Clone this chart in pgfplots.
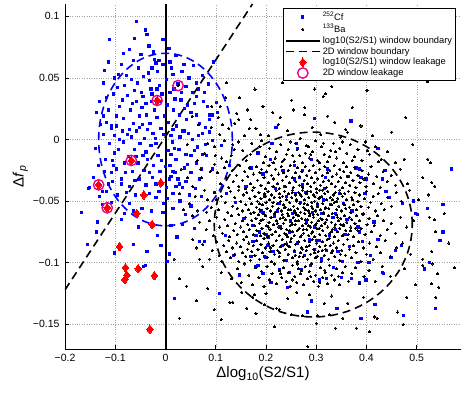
\documentclass[border=0pt]{standalone}
\usepackage{fontspec}
\setmainfont{Liberation Sans}
\usepackage{pgfplots}
\pgfplotsset{compat=1.18}
\begin{document}
\begin{tikzpicture}
\begin{axis}[
  at={(0,0)}, anchor=south west,
  scale only axis, width=396pt, height=345pt,
  xmin=-0.2, xmax=0.588, ymin=-0.17, ymax=0.11,
  axis lines=left, axis line style={-, line width=0.7pt},
  tick align=inside, major tick length=4pt, tick style={line width=0.6pt, black},
  xtick={-0.2,-0.1,0,0.1,0.2,0.3,0.4,0.5},
  xticklabels={−0.2,−0.1,0,0.1,0.2,0.3,0.4,0.5},
  ytick={-0.15,-0.1,-0.05,0,0.05,0.1},
  yticklabels={−0.15,−0.1,−0.05,0,0.05,0.1},
  ticklabel style={font=\fontsize{10.5}{12}\selectfont},
  yticklabel style={xshift=-2pt},
  xticklabel style={yshift=-2pt},
  grid=major, grid style={dotted, gray!70, line width=0.5pt},
  xlabel={\fontsize{15}{16}\selectfont Δlog\textsubscript{10}(S2/S1)},
  ylabel={\fontsize{15}{16}\selectfont Δ\textit{f}\textsubscript{\textit{p}}},
  xlabel style={yshift=2pt},
  ylabel style={yshift=-2pt},
  legend image code/.code={\draw[mark repeat=2,mark phase=2,#1] plot coordinates {(0pt,0pt) (17pt,0pt) (34pt,0pt)};},
  legend style={at={(rel axis cs:0.987,0.988)}, anchor=north east, draw=black, line width=0.6pt, fill=white,
    font=\fontsize{9.3}{10}\selectfont, inner sep=1.5pt, row sep=-1.5pt},
  legend cell align=left,
]
% 252Cf
\addplot[only marks, mark=square*, mark size=1.15pt, color=blue, mark options={line width=0pt}] coordinates {
(-0.058,0.096) (-0.040,0.089) (-0.037,0.085) (-0.111,0.081) (0.007,0.074) (-0.022,0.065) (-0.019,0.062) (-0.013,0.064)
(-0.121,0.056) (0.009,0.063) (-0.054,0.058) (-0.078,0.052) (0.015,0.053) (0.056,0.060) (0.095,0.063) (0.074,0.052)
(-0.123,0.046) (-0.096,0.042) (-0.032,0.048) (-0.012,0.044) (0.041,0.043) (-0.131,0.031) (-0.113,0.024) (-0.085,0.032)
(-0.062,0.040) (-0.045,0.035) (0.009,0.038) (0.031,0.032) (0.061,0.035) (0.084,0.027) (0.094,0.020) (-0.098,0.011)
(-0.108,0.009) (-0.070,0.024) (-0.052,0.019) (-0.038,0.020) (-0.022,0.024) (-0.002,0.019) (0.028,0.020) (0.051,0.022)
(0.068,0.013) (0.088,0.020) (-0.092,0.000) (-0.075,0.004) (-0.058,0.007) (-0.042,0.001) (-0.025,0.005) (-0.009,0.009)
(0.011,0.003) (0.034,0.007) (0.054,0.000) (0.074,0.005) (0.094,-0.001) (0.111,-0.005) (-0.101,-0.011) (-0.082,-0.019)
(-0.062,-0.008) (-0.045,-0.013) (-0.029,-0.005) (-0.015,-0.013) (0.005,-0.009) (0.021,-0.016) (0.041,-0.012) (0.061,-0.019)
(0.081,-0.013) (-0.108,-0.027) (-0.088,-0.032) (-0.065,-0.026) (-0.052,-0.032) (-0.032,-0.027) (-0.019,-0.036) (0.011,-0.030)
(0.028,-0.036) (0.051,-0.027) (-0.151,-0.039) (-0.125,-0.042)
(-0.123,0.019) (-0.107,0.011) (-0.105,-0.017) (-0.103,-0.021) (-0.153,-0.040) (-0.121,-0.026) (-0.118,-0.042) (-0.131,-0.046)
(-0.167,-0.059) (-0.125,-0.053) (-0.135,-0.067) (-0.137,-0.075) (-0.155,-0.085) (-0.097,0.019) (-0.101,0.003)
(-0.105,-0.034) (-0.088,-0.036) (-0.072,-0.038) (-0.032,-0.044) (-0.019,-0.047) (-0.004,-0.052) (-0.082,-0.060) (-0.072,-0.052)
(-0.044,-0.103) (-0.040,-0.102) (-0.009,-0.086) (0.015,-0.044) (0.021,-0.038) (0.034,-0.039) (0.023,-0.079) (0.018,-0.129)
(-0.060,-0.045) (-0.047,-0.056)
(0.078,0.038) (0.054,0.038) (0.044,0.028) (0.015,0.008) (0.038,0.007) (0.066,0.003) (0.088,0.016) (0.101,0.030)
(0.104,0.022) (0.018,-0.007) (0.011,-0.012) (0.051,-0.013) (0.074,-0.012) (0.094,-0.024) (0.038,-0.023) (0.015,-0.026)
(0.008,-0.032) (0.025,-0.032) (0.068,-0.032) (0.071,-0.046) (0.097,-0.043) (0.121,-0.044) (0.051,-0.054) (0.015,-0.056)
(-0.005,-0.059) (0.011,-0.070) (0.034,-0.069) (0.068,-0.083) (0.078,-0.083) (0.008,-0.093) (0.107,-0.125) (0.080,-0.004)
(0.061,0.046)
(-0.087,0.061) (-0.071,0.073) (-0.049,0.069) (-0.033,0.076) (-0.027,0.058) (-0.005,0.081) (0.021,0.068) (0.037,0.061)
(-0.064,0.064) (-0.044,0.051) (-0.016,0.055) (0.002,0.049) (0.025,0.045) (-0.093,0.053) (-0.081,0.044) (-0.068,0.049)
(-0.056,0.046) (-0.029,0.041) (-0.007,0.037) (0.017,0.041) (0.047,0.050) (-0.104,0.037) (-0.091,0.027) (-0.076,0.036)
(-0.058,0.031) (-0.039,0.029) (-0.027,0.037) (-0.011,0.031) (0.003,0.028) (0.019,0.033) (0.038,0.025) (0.057,0.029)
(0.075,0.031) (-0.117,0.014) (-0.084,0.017) (-0.063,0.013) (-0.047,0.026) (-0.031,0.013) (-0.017,0.018) (0.006,0.014)
(0.022,0.011) (0.042,0.016) (0.061,0.020) (0.080,0.010) (-0.123,0.004) (-0.111,-0.003) (-0.086,0.007) (-0.067,0.002)
(-0.051,-0.003) (-0.036,0.008) (-0.020,0.001) (-0.003,0.004) (0.014,-0.002) (0.029,0.002) (0.046,0.005) (0.063,-0.006)
(0.087,0.006) (-0.119,-0.016) (-0.094,-0.008) (-0.073,-0.014) (-0.055,-0.019) (-0.039,-0.010) (-0.024,-0.021) (-0.008,-0.017)
(0.009,-0.021) (0.027,-0.008) (0.044,-0.020) (0.058,-0.009) (0.071,-0.024) (-0.113,-0.036) (-0.097,-0.024) (-0.079,-0.027)
(-0.061,-0.033) (-0.043,-0.025) (-0.026,-0.031) (-0.011,-0.026) (0.002,-0.039) (0.019,-0.027) (0.041,-0.034) (0.060,-0.040)
(-0.143,-0.031) (-0.133,-0.021) (-0.139,-0.007) (-0.129,0.012) (-0.137,0.022) (-0.118,0.034) (-0.102,0.050) (-0.114,0.063)
(-0.084,0.070) (-0.062,0.082) (-0.024,0.071) (0.012,0.058) (0.033,0.055) (0.066,0.041) (0.086,0.045) (-0.095,-0.045)
(-0.078,-0.043) (-0.064,-0.058) (-0.039,-0.037) (-0.013,-0.042) (0.004,-0.048) (0.029,-0.050) (0.048,-0.045) (-0.107,-0.051)
(-0.088,-0.065) (-0.054,-0.071) (-0.028,-0.058) (-0.016,-0.078) (0.040,-0.061) (0.058,-0.072) (-0.101,-0.092) (-0.063,-0.085)
(-0.037,-0.091) (0.003,-0.099) (-0.046,0.012) (-0.017,0.041) (-0.034,0.054) (-0.052,0.010) (0.000,-0.022) (-0.071,0.008)
(-0.059,-0.014) (-0.019,-0.003) (-0.048,0.038) (-0.083,-0.002) (-0.005,0.061) (-0.036,-0.016) (0.032,0.038) (-0.066,0.029)
(-0.028,0.031) (0.016,0.024)
(0.296,0.017) (0.220,0.010) (0.369,0.015) (0.423,-0.007) (0.569,-0.024) (0.501,-0.061) (0.521,-0.056) (0.552,-0.075)
(0.546,-0.082) (0.525,-0.100) (0.515,-0.105) (0.537,-0.137) (0.474,-0.143) (0.389,-0.145) (0.417,-0.134) (0.399,-0.114)
(0.432,-0.108) (0.449,-0.096) (0.457,-0.090) (0.470,-0.086) (0.406,-0.100) (0.386,-0.116) (0.415,-0.067) (0.423,-0.081)
(0.386,-0.075) (0.408,-0.094) (0.290,-0.131) (0.283,-0.140) (0.341,-0.137) (0.243,-0.120) (0.210,-0.116) (0.194,-0.109)
(0.180,-0.103) (0.197,-0.095)
(0.212,-0.003) (0.260,-0.003) (0.263,-0.007) (0.184,-0.011) (0.323,-0.024) (0.209,-0.016) (0.234,-0.025) (0.257,-0.021)
(0.273,-0.025) (0.290,-0.016) (0.170,-0.023) (0.194,-0.028) (0.257,-0.032) (0.266,-0.031) (0.279,-0.043) (0.237,-0.038)
(0.317,-0.040) (0.363,-0.030) (0.379,-0.023) (0.197,-0.046) (0.227,-0.052) (0.346,-0.044) (0.354,-0.052) (0.292,-0.059)
(0.310,-0.060) (0.190,-0.058) (0.217,-0.062)
(0.437,-0.025) (0.432,-0.032) (0.386,-0.024) (0.389,-0.031) (0.400,-0.032) (0.397,-0.044) (0.439,-0.042) (0.445,-0.047)
(0.472,-0.052) (0.494,-0.050) (0.552,-0.053) (0.498,-0.060)
(0.194,-0.059) (0.223,-0.058) (0.253,-0.060) (0.338,-0.060) (0.174,-0.070) (0.187,-0.075) (0.200,-0.077) (0.247,-0.075)
(0.287,-0.081) (0.300,-0.082) (0.306,-0.082) (0.326,-0.078) (0.338,-0.073) (0.233,-0.086) (0.204,-0.086) (0.257,-0.091)
(0.320,-0.090) (0.343,-0.091) (0.366,-0.087) (0.170,-0.095) (0.199,-0.096) (0.240,-0.098) (0.383,-0.100) (0.227,-0.106)
(0.270,-0.106) (0.306,-0.114) (0.321,-0.113) (0.350,-0.112) (0.370,-0.113)
(0.383,-0.071) (0.404,-0.100) (0.434,-0.109) (0.388,-0.145)
(0.180,-0.078) (0.174,-0.083) (0.184,-0.102) (0.147,-0.110) (0.156,-0.064) (0.139,-0.051) (0.128,-0.021) (0.119,-0.078)
(0.135,-0.094) (0.160,-0.038)
(0.268,-0.051) (0.281,-0.067) (0.296,-0.071) (0.302,-0.054) (0.314,-0.049) (0.249,-0.066) (0.262,-0.084) (0.276,-0.094)
(0.333,-0.063) (0.357,-0.077) (0.371,-0.058) (0.229,-0.071) (0.214,-0.091) (0.288,-0.102) (0.311,-0.097) (0.328,-0.053)
(0.241,-0.046) (0.352,-0.099) (0.392,-0.083) (0.273,-0.037) (0.219,-0.040) (0.247,-0.108) (0.334,-0.104) (0.361,-0.065)
(0.297,-0.089) (0.259,-0.044) (0.318,-0.031) (0.205,-0.079)
};
\addlegendentry{\textsuperscript{252}Cf}
% 133Ba
\addplot[only marks, mark=*, mark size=1.05pt, color=black, mark options={line width=0pt}] coordinates {
(0.025,0.044) (0.092,0.027) (0.122,0.046) (0.147,0.034) (0.178,0.041) (0.194,0.027) (0.232,0.046) (0.255,0.024)
(0.277,0.026) (0.277,0.020) (0.314,0.035) (0.318,0.037) (0.331,0.043) (0.372,0.026) (0.401,0.040) (0.397,0.049)
(0.521,0.047) (0.228,0.018) (0.170,0.016) (0.224,0.012) (0.180,0.009) (0.359,0.008) (0.362,0.006) (0.450,0.006)
(0.167,0.009) (0.066,0.012) (0.108,0.004) (0.138,0.013) (0.205,0.003) (0.243,0.007) (0.268,0.001) (0.292,0.010)
(0.309,0.004) (0.337,0.014) (0.348,0.002) (0.389,0.011) (0.412,0.003) (0.142,0.021) (0.251,0.032) (0.213,0.022)
(0.297,0.041) (0.053,0.019) (0.478,0.018) (0.189,0.004) (0.323,0.019)
(0.154,-0.009) (0.131,-0.013) (0.172,-0.003) (0.121,-0.018) (0.475,-0.016) (0.522,-0.016) (0.527,-0.019) (0.043,-0.004)
(0.078,-0.011) (0.097,-0.006) (0.112,-0.015) (0.145,-0.002) (0.161,-0.017) (0.183,-0.011) (0.191,-0.001) (0.199,-0.014)
(0.207,-0.007) (0.214,-0.019) (0.221,-0.010) (0.229,-0.004) (0.236,-0.016) (0.241,-0.012) (0.248,-0.002) (0.256,-0.018)
(0.262,-0.008) (0.267,-0.013) (0.273,-0.019) (0.281,-0.005) (0.286,-0.015) (0.293,-0.010) (0.298,-0.001) (0.303,-0.017)
(0.311,-0.006) (0.316,-0.012) (0.322,-0.018) (0.329,-0.009) (0.334,-0.003) (0.341,-0.015) (0.347,-0.007) (0.355,-0.019)
(0.361,-0.011) (0.368,-0.004) (0.376,-0.014) (0.383,-0.008) (0.391,-0.017) (0.398,-0.002) (0.406,-0.012) (0.417,-0.006)
(0.429,-0.016) (0.441,-0.010) (0.458,-0.019) (0.492,-0.004) (0.188,-0.006) (0.232,-0.018) (0.259,-0.003) (0.289,-0.012)
(0.307,-0.019) (0.326,-0.014) (0.352,-0.002) (0.372,-0.017) (0.218,-0.015) (0.244,-0.008) (0.278,-0.011) (0.314,-0.003)
(0.338,-0.010) (0.169,-0.012) (0.195,-0.019) (0.063,-0.017) (0.137,-0.008) (0.402,-0.009) (0.424,-0.018) (0.253,-0.013)
(0.285,-0.006)
(0.104,-0.027) (0.109,-0.036) (0.117,-0.023) (0.122,-0.031) (0.126,-0.039) (0.133,-0.025) (0.135,-0.034) (0.141,-0.029)
(0.146,-0.038) (0.148,-0.021) (0.153,-0.033) (0.158,-0.026) (0.159,-0.040) (0.164,-0.030) (0.167,-0.023) (0.170,-0.036)
(0.175,-0.028) (0.176,-0.039) (0.181,-0.022) (0.183,-0.033) (0.188,-0.027) (0.190,-0.037) (0.191,-0.024) (0.196,-0.031)
(0.199,-0.040) (0.201,-0.026) (0.205,-0.035) (0.206,-0.021) (0.211,-0.029) (0.214,-0.038) (0.215,-0.032) (0.219,-0.024)
(0.222,-0.036) (0.225,-0.028) (0.226,-0.040) (0.230,-0.022) (0.233,-0.033) (0.235,-0.027) (0.239,-0.038) (0.240,-0.030)
(0.244,-0.025) (0.247,-0.035) (0.248,-0.021) (0.252,-0.031) (0.254,-0.039) (0.258,-0.027) (0.259,-0.034) (0.263,-0.023)
(0.266,-0.037) (0.267,-0.030) (0.271,-0.026) (0.273,-0.039) (0.276,-0.033) (0.278,-0.022) (0.281,-0.029) (0.283,-0.036)
(0.286,-0.025) (0.289,-0.038) (0.290,-0.031) (0.294,-0.021) (0.296,-0.035) (0.299,-0.027) (0.301,-0.040) (0.303,-0.032)
(0.307,-0.024) (0.308,-0.037) (0.312,-0.029) (0.314,-0.034) (0.317,-0.022) (0.320,-0.039) (0.322,-0.027) (0.325,-0.033)
(0.327,-0.025) (0.331,-0.036) (0.332,-0.030) (0.336,-0.021) (0.338,-0.038) (0.341,-0.028) (0.344,-0.034) (0.347,-0.024)
(0.349,-0.031) (0.352,-0.039) (0.355,-0.026) (0.358,-0.035) (0.360,-0.022) (0.363,-0.030) (0.367,-0.037) (0.369,-0.027)
(0.373,-0.033) (0.377,-0.023) (0.379,-0.039) (0.383,-0.029) (0.387,-0.035) (0.391,-0.025) (0.395,-0.032) (0.399,-0.038)
(0.404,-0.028) (0.409,-0.022) (0.414,-0.036) (0.420,-0.030) (0.427,-0.039) (0.433,-0.026) (0.441,-0.034) (0.449,-0.029)
(0.458,-0.037) (0.467,-0.024) (0.481,-0.036) (0.512,-0.031) (0.530,-0.035) (0.536,-0.038)
(0.031,-0.024) (0.054,-0.038) (0.072,-0.031) (0.089,-0.026) (0.098,-0.020)
(0.028,-0.044) (0.047,-0.052) (0.063,-0.058) (0.078,-0.041) (0.083,-0.049) (0.091,-0.055) (0.097,-0.043) (0.106,-0.057)
(0.111,-0.046) (0.119,-0.051) (0.124,-0.059) (0.129,-0.042) (0.134,-0.054) (0.138,-0.047) (0.143,-0.056) (0.146,-0.041)
(0.150,-0.050) (0.153,-0.058) (0.156,-0.045) (0.160,-0.053) (0.162,-0.043) (0.165,-0.057) (0.168,-0.048) (0.171,-0.052)
(0.173,-0.041) (0.176,-0.059) (0.178,-0.046) (0.181,-0.055) (0.183,-0.050) (0.186,-0.043) (0.188,-0.057) (0.190,-0.048)
(0.193,-0.053) (0.195,-0.060) (0.197,-0.044) (0.200,-0.051) (0.202,-0.056) (0.204,-0.042) (0.207,-0.049) (0.209,-0.058)
(0.211,-0.045) (0.213,-0.054) (0.216,-0.047) (0.218,-0.059) (0.220,-0.041) (0.222,-0.052) (0.224,-0.056) (0.227,-0.044)
(0.229,-0.050) (0.231,-0.058) (0.233,-0.046) (0.235,-0.053) (0.237,-0.042) (0.239,-0.055) (0.241,-0.049) (0.243,-0.060)
(0.245,-0.044) (0.247,-0.051) (0.249,-0.057) (0.251,-0.047) (0.253,-0.041) (0.255,-0.054) (0.257,-0.058) (0.259,-0.045)
(0.261,-0.050) (0.263,-0.056) (0.265,-0.043) (0.267,-0.052) (0.269,-0.059) (0.271,-0.046) (0.273,-0.041) (0.275,-0.055)
(0.277,-0.049) (0.279,-0.057) (0.281,-0.044) (0.283,-0.053) (0.285,-0.047) (0.287,-0.060) (0.289,-0.042) (0.291,-0.051)
(0.293,-0.056) (0.295,-0.045) (0.297,-0.050) (0.299,-0.058) (0.301,-0.043) (0.303,-0.054) (0.305,-0.048) (0.307,-0.041)
(0.309,-0.057) (0.311,-0.046) (0.313,-0.052) (0.315,-0.059) (0.317,-0.044) (0.319,-0.055) (0.321,-0.049) (0.323,-0.042)
(0.325,-0.056) (0.328,-0.047) (0.330,-0.053) (0.332,-0.060) (0.334,-0.045) (0.336,-0.051) (0.338,-0.043) (0.341,-0.057)
(0.343,-0.048) (0.345,-0.054) (0.347,-0.041) (0.350,-0.058) (0.352,-0.046) (0.354,-0.052) (0.357,-0.044) (0.359,-0.056)
(0.361,-0.049) (0.364,-0.042) (0.366,-0.055) (0.369,-0.059) (0.371,-0.047) (0.374,-0.053) (0.377,-0.043) (0.380,-0.057)
(0.383,-0.050) (0.386,-0.045) (0.389,-0.054) (0.393,-0.060) (0.396,-0.048) (0.400,-0.042) (0.404,-0.055) (0.408,-0.051)
(0.413,-0.046) (0.418,-0.058) (0.423,-0.044) (0.429,-0.052) (0.435,-0.057) (0.442,-0.047) (0.450,-0.054) (0.459,-0.043)
(0.469,-0.050) (0.486,-0.041) (0.503,-0.049) (0.524,-0.045)
(0.214,-0.051) (0.227,-0.047) (0.236,-0.055) (0.252,-0.043) (0.261,-0.049) (0.276,-0.052) (0.284,-0.058) (0.297,-0.046)
(0.312,-0.041) (0.318,-0.056) (0.333,-0.049) (0.348,-0.044) (0.356,-0.053) (0.244,-0.057) (0.269,-0.045) (0.291,-0.054)
(0.307,-0.047) (0.341,-0.050) (0.258,-0.059) (0.282,-0.042) (0.302,-0.052) (0.198,-0.046) (0.187,-0.052) (0.372,-0.049)
(0.054,-0.062) (0.068,-0.067) (0.081,-0.073) (0.088,-0.066) (0.095,-0.078) (0.102,-0.063) (0.108,-0.071) (0.113,-0.076)
(0.118,-0.065) (0.123,-0.070) (0.127,-0.079) (0.131,-0.062) (0.136,-0.074) (0.139,-0.068) (0.143,-0.077) (0.146,-0.061)
(0.150,-0.071) (0.153,-0.066) (0.156,-0.075) (0.159,-0.063) (0.162,-0.079) (0.164,-0.069) (0.167,-0.073) (0.170,-0.060)
(0.172,-0.066) (0.175,-0.077) (0.177,-0.070) (0.180,-0.064) (0.182,-0.074) (0.185,-0.061) (0.187,-0.068) (0.189,-0.078)
(0.192,-0.072) (0.194,-0.065) (0.196,-0.076) (0.199,-0.062) (0.201,-0.070) (0.203,-0.079) (0.206,-0.067) (0.208,-0.073)
(0.210,-0.063) (0.212,-0.077) (0.215,-0.069) (0.217,-0.060) (0.219,-0.075) (0.221,-0.066) (0.224,-0.071) (0.226,-0.078)
(0.228,-0.064) (0.230,-0.072) (0.232,-0.061) (0.235,-0.068) (0.237,-0.076) (0.239,-0.065) (0.241,-0.073) (0.243,-0.079)
(0.245,-0.062) (0.248,-0.070) (0.250,-0.067) (0.252,-0.075) (0.254,-0.063) (0.256,-0.078) (0.258,-0.069) (0.260,-0.061)
(0.262,-0.074) (0.264,-0.066) (0.266,-0.072) (0.268,-0.079) (0.271,-0.064) (0.273,-0.070) (0.275,-0.076) (0.277,-0.060)
(0.279,-0.068) (0.281,-0.073) (0.283,-0.065) (0.285,-0.078) (0.287,-0.062) (0.289,-0.071) (0.291,-0.067) (0.293,-0.075)
(0.295,-0.063) (0.297,-0.079) (0.299,-0.069) (0.301,-0.072) (0.303,-0.061) (0.305,-0.066) (0.307,-0.077) (0.309,-0.064)
(0.311,-0.070) (0.313,-0.074) (0.315,-0.060) (0.317,-0.068) (0.319,-0.078) (0.321,-0.065) (0.323,-0.071) (0.325,-0.062)
(0.327,-0.076) (0.330,-0.067) (0.332,-0.073) (0.334,-0.063) (0.336,-0.079) (0.338,-0.069) (0.340,-0.061) (0.343,-0.075)
(0.345,-0.066) (0.347,-0.072) (0.349,-0.064) (0.352,-0.078) (0.354,-0.070) (0.356,-0.062) (0.359,-0.074) (0.361,-0.067)
(0.364,-0.077) (0.366,-0.063) (0.369,-0.071) (0.371,-0.065) (0.374,-0.079) (0.377,-0.068) (0.380,-0.062) (0.383,-0.074)
(0.386,-0.066) (0.389,-0.072) (0.393,-0.061) (0.397,-0.077) (0.401,-0.069) (0.405,-0.064) (0.410,-0.075) (0.415,-0.070)
(0.421,-0.062) (0.427,-0.078) (0.433,-0.066) (0.441,-0.073) (0.449,-0.068) (0.458,-0.076) (0.468,-0.063) (0.480,-0.071)
(0.494,-0.066) (0.525,-0.063) (0.535,-0.065) (0.538,-0.075) (0.555,-0.060)
(0.222,-0.068) (0.234,-0.063) (0.247,-0.074) (0.259,-0.066) (0.270,-0.078) (0.284,-0.070) (0.294,-0.061) (0.306,-0.072)
(0.318,-0.067) (0.331,-0.075) (0.342,-0.063) (0.355,-0.069) (0.368,-0.074) (0.240,-0.077) (0.265,-0.062) (0.290,-0.076)
(0.312,-0.065) (0.337,-0.071) (0.252,-0.069) (0.278,-0.065) (0.300,-0.068) (0.326,-0.080) (0.205,-0.071) (0.190,-0.066)
(0.378,-0.072) (0.349,-0.069) (0.274,-0.073)
(0.054,-0.081) (0.061,-0.088) (0.068,-0.097) (0.074,-0.085) (0.088,-0.097) (0.093,-0.090) (0.101,-0.083) (0.107,-0.094)
(0.112,-0.099) (0.116,-0.086) (0.121,-0.091) (0.126,-0.082) (0.130,-0.096) (0.134,-0.088) (0.138,-0.093) (0.142,-0.084)
(0.146,-0.099) (0.149,-0.087) (0.153,-0.092) (0.156,-0.081) (0.160,-0.095) (0.163,-0.089) (0.166,-0.084) (0.169,-0.098)
(0.172,-0.091) (0.175,-0.086) (0.178,-0.094) (0.181,-0.082) (0.184,-0.089) (0.187,-0.097) (0.190,-0.085) (0.193,-0.092)
(0.196,-0.080) (0.199,-0.088) (0.202,-0.096) (0.205,-0.084) (0.208,-0.091) (0.211,-0.099) (0.214,-0.086) (0.217,-0.093)
(0.220,-0.082) (0.223,-0.090) (0.226,-0.095) (0.229,-0.087) (0.232,-0.081) (0.235,-0.098) (0.238,-0.089) (0.241,-0.084)
(0.244,-0.093) (0.247,-0.087) (0.250,-0.080) (0.253,-0.096) (0.256,-0.090) (0.259,-0.085) (0.262,-0.099) (0.265,-0.083)
(0.268,-0.092) (0.271,-0.088) (0.274,-0.095) (0.277,-0.082) (0.280,-0.090) (0.283,-0.097) (0.286,-0.086) (0.289,-0.093)
(0.292,-0.081) (0.295,-0.089) (0.298,-0.096) (0.301,-0.084) (0.304,-0.091) (0.307,-0.087) (0.310,-0.099) (0.313,-0.083)
(0.316,-0.094) (0.319,-0.089) (0.322,-0.081) (0.325,-0.097) (0.328,-0.086) (0.331,-0.092) (0.334,-0.084) (0.337,-0.095)
(0.340,-0.088) (0.344,-0.082) (0.347,-0.098) (0.351,-0.090) (0.354,-0.085) (0.358,-0.094) (0.362,-0.081) (0.366,-0.089)
(0.370,-0.096) (0.374,-0.086) (0.379,-0.092) (0.384,-0.083) (0.389,-0.099) (0.394,-0.088) (0.400,-0.093) (0.406,-0.084)
(0.413,-0.097) (0.420,-0.087) (0.428,-0.092) (0.437,-0.082) (0.447,-0.095) (0.459,-0.088) (0.472,-0.084) (0.488,-0.093)
(0.512,-0.097) (0.530,-0.091) (0.564,-0.084)
(0.227,-0.092) (0.243,-0.086) (0.258,-0.094) (0.273,-0.089) (0.287,-0.083) (0.302,-0.095) (0.318,-0.086) (0.333,-0.090)
(0.249,-0.083) (0.266,-0.095) (0.281,-0.087) (0.297,-0.092) (0.312,-0.090) (0.209,-0.088) (0.348,-0.093) (0.236,-0.085)
(0.028,-0.113) (0.074,-0.103) (0.111,-0.108) (0.131,-0.113) (0.143,-0.105) (0.151,-0.116) (0.158,-0.101) (0.166,-0.110)
(0.173,-0.118) (0.179,-0.104) (0.186,-0.112) (0.191,-0.107) (0.196,-0.119) (0.202,-0.103) (0.207,-0.114) (0.212,-0.109)
(0.217,-0.101) (0.221,-0.117) (0.226,-0.106) (0.231,-0.112) (0.235,-0.104) (0.240,-0.115) (0.244,-0.108) (0.248,-0.119)
(0.253,-0.102) (0.257,-0.111) (0.261,-0.116) (0.265,-0.105) (0.269,-0.109) (0.274,-0.118) (0.278,-0.103) (0.282,-0.113)
(0.286,-0.107) (0.291,-0.101) (0.295,-0.115) (0.299,-0.110) (0.304,-0.119) (0.308,-0.104) (0.313,-0.112) (0.317,-0.106)
(0.322,-0.117) (0.326,-0.102) (0.331,-0.110) (0.336,-0.114) (0.341,-0.105) (0.346,-0.118) (0.352,-0.108) (0.358,-0.103)
(0.364,-0.115) (0.371,-0.109) (0.378,-0.104) (0.386,-0.117) (0.395,-0.111) (0.405,-0.106) (0.417,-0.115) (0.431,-0.103)
(0.448,-0.111) (0.475,-0.105) (0.497,-0.118) (0.512,-0.102) (0.529,-0.117) (0.532,-0.101) (0.542,-0.109) (0.575,-0.104)
(0.252,-0.114) (0.271,-0.106) (0.289,-0.111) (0.307,-0.116) (0.229,-0.109) (0.344,-0.111) (0.263,-0.101) (0.318,-0.108)
(0.028,-0.145) (0.134,-0.132) (0.128,-0.132) (0.174,-0.128) (0.177,-0.126) (0.197,-0.134) (0.200,-0.125) (0.226,-0.138)
(0.221,-0.137) (0.250,-0.142) (0.273,-0.143) (0.303,-0.143) (0.326,-0.142) (0.353,-0.145) (0.217,-0.152) (0.300,-0.149)
(0.338,-0.153) (0.380,-0.153) (0.180,-0.141) (0.243,-0.129) (0.286,-0.126) (0.316,-0.133) (0.363,-0.133) (0.538,-0.128)
(0.544,-0.120) (0.480,-0.128) (0.462,-0.140) (0.473,-0.150) (0.406,-0.156) (0.416,-0.144) (0.421,-0.145) (0.261,-0.124)
(0.331,-0.127) (0.394,-0.128) (0.152,-0.124) (0.283,-0.168) (0.111,-0.146) (0.162,-0.137)
(0.105,0.018) (0.113,0.012) (0.118,-0.001) (0.126,0.009) (0.099,-0.013) (0.134,-0.004) (0.109,0.027) (0.146,0.016)
(0.163,0.024) (0.120,0.034) (0.157,0.003) (0.084,-0.003) (0.091,0.010) (0.070,-0.024) (0.044,-0.031) (0.059,-0.046)
(0.082,-0.059) (0.101,-0.049) (0.036,-0.057) (0.017,-0.097) (0.042,-0.119) (0.061,-0.131) (0.084,-0.121) (0.097,-0.138)
(0.401,0.040) (0.450,0.006) (0.475,-0.016) (0.512,-0.031)
};
\addlegendentry{\textsuperscript{133}Ba}
% log10 window boundary
\addplot[black, line width=2pt, mark=none] coordinates {(0,-0.17) (0,0.11)};
\addlegendentry{log10(S2/S1) window boundary}
% 2D window boundary (diagonal)
\addplot[black, line width=1.6pt, dash pattern=on 8pt off 5pt, mark=none] coordinates {(-0.2,-0.122) (0.173,0.110)};
\addlegendentry{2D window boundary}
\draw[black, line width=1.6pt, dash pattern=on 8pt off 5pt] (axis cs:0.294,-0.069) ellipse [x radius=0.197, y radius=0.075];
\draw[blue, line width=1.6pt, dash pattern=on 8pt off 5pt] (axis cs:0,0) ellipse [x radius=0.133, y radius=0.070];
% log10 leakage
\addplot[only marks, mark=diamond*, mark size=4.3pt, color=red, mark options={line width=0pt, fill=red}] coordinates {
(-0.0166,0.0317) (-0.068,-0.017) (-0.133,-0.0368) (-0.116,-0.0554) (-0.0093,-0.0352) (-0.043,-0.045) (-0.057,-0.060)
(-0.0265,-0.069) (-0.0915,-0.0868) (-0.0796,-0.104) (-0.077,-0.110) (-0.081,-0.1137) (-0.0544,-0.1048) (-0.022,-0.1105)
(-0.031,-0.154)
};
\addlegendentry{log10(S2/S1) window leakage}
% 2D leakage
\addplot[only marks, mark=o, mark size=5.2pt, color=magenta, mark options={line width=1.4pt}] coordinates {
(-0.0166,0.0317) (-0.068,-0.017) (-0.133,-0.0368) (-0.116,-0.0554) (0.025,0.0438)
};
\addlegendentry{2D window leakage}
\end{axis}
\pgfresetboundingbox
\path[use as bounding box] (-65pt,-47pt) rectangle (404pt,349pt);
\end{tikzpicture}
\end{document}
